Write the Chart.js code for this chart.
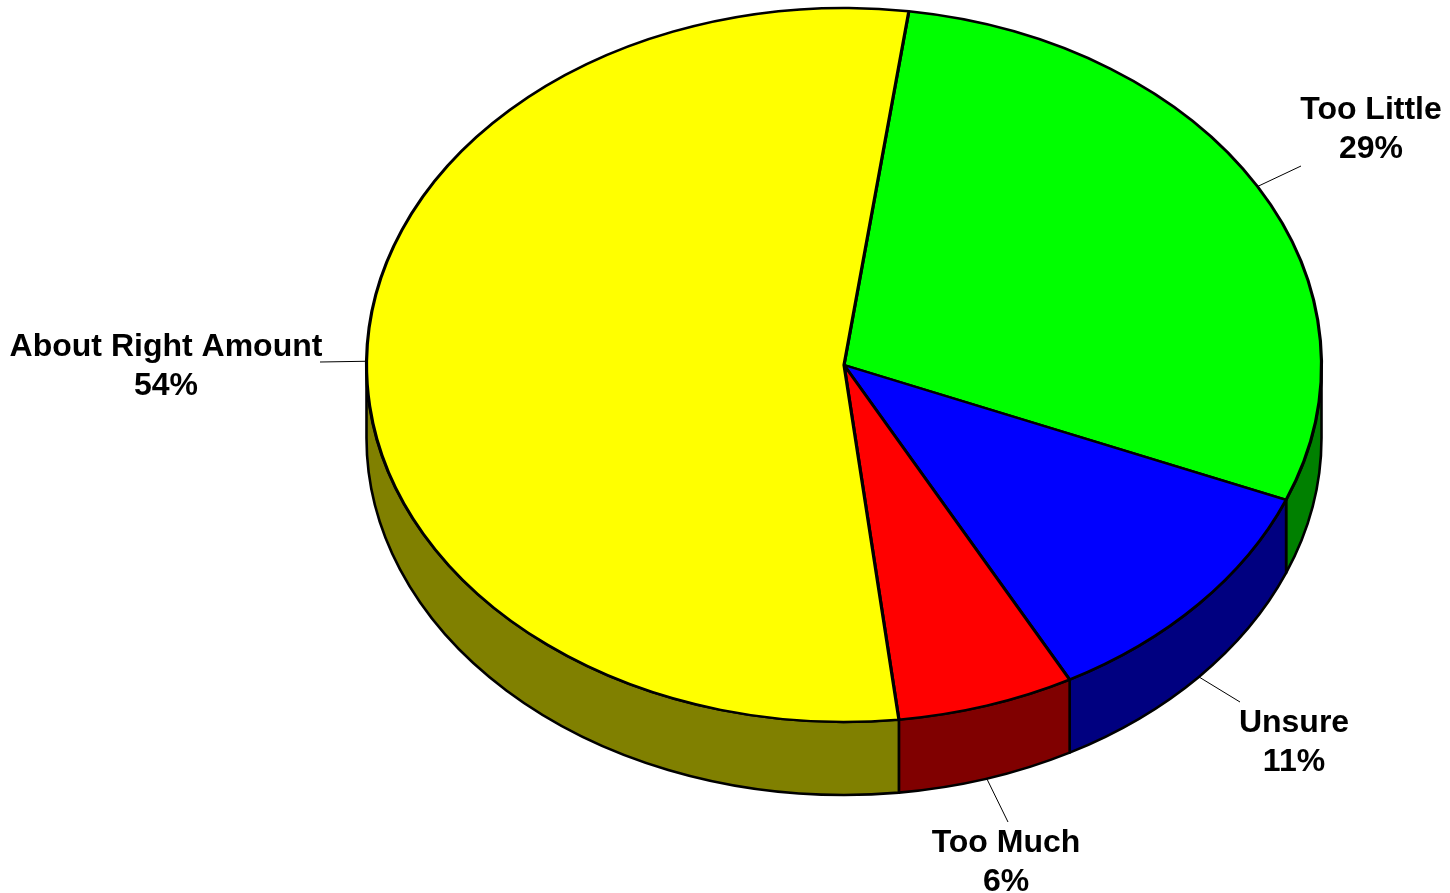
<!DOCTYPE html>
<html>
<head>
<meta charset="utf-8">
<script src="https://cdn.jsdelivr.net/npm/chart.js@4/dist/chart.umd.min.js"></script>
<style>
  html, body { margin: 0; padding: 0; background: #fff; }
  #wrap { width: 1450px; height: 893px; }
</style>
</head>
<body>
<div id="wrap"><canvas id="pie" width="1450" height="893"></canvas></div>
<script>
// 3D-look pie: Chart.js draws the top face, a plugin squashes it and adds the walls

const categories = ["Too Little", "Unsure", "Too Much", "About Right Amount"];
const values = [29, 11, 6, 54];
const pctLabels = ["29%", "11%", "6%", "54%"];
const topColors = ["#00ff00", "#0000ff", "#ff0000", "#ffff00"];
const sideColors = ["#008000", "#000080", "#800000", "#808000"];

// look of the projection
const tilt = 357 / 477.5;   // ellipse height / width
const depth = 73;           // wall height in px

// where each label sits (centre x, first baseline) and where its leader ends
const labelPos = [[1371, 119], [1294, 732], [1006, 852], [166, 356]];
const leaderEnd = [[1301, 166], [1240, 702], [1008, 822], [320, 362]];

const $ = id => document.getElementById(id);

function frontRanges(s, e) {
  // parts of [s,e] that face the viewer (canvas angle 0..PI, any turn)
  let out = [];
  for (let k = -1; k <= 1; k++) {
    let a = Math.max(s, 2 * Math.PI * k), b = Math.min(e, 2 * Math.PI * k + Math.PI);
    if (b > a) out.push([a, b]);
  }
  return out;
}

const pie3d = {
  id: "pie3d",
  beforeDatasetsDraw(chart) {
    const ctx = chart.ctx;
    const arcs = chart.getDatasetMeta(0).data;
    ctx.save();
    ctx.lineWidth = 2.6;
    ctx.strokeStyle = "#000";
    ctx.lineJoin = "round";
    arcs.forEach((arc, i) => {
      const {x, y, outerRadius, startAngle, endAngle} = arc;
      const rx = outerRadius, ry = outerRadius * tilt;
      frontRanges(startAngle, endAngle).forEach(([a, b]) => {
        ctx.beginPath();
        ctx.ellipse(x, y, rx, ry, 0, a, b);
        ctx.ellipse(x, y + depth, rx, ry, 0, b, a, true);
        ctx.closePath();
        ctx.fillStyle = sideColors[i];
        ctx.fill();
        ctx.stroke();
      });
    });
    ctx.restore();

    // squash the circle into the top ellipse
    const c = arcs[0];
    ctx.save();
    ctx.translate(0, c.y);
    ctx.scale(1, tilt);
    ctx.translate(0, -c.y);
  },
  afterDatasetsDraw(chart) {
    chart.ctx.restore();
  },
  afterDraw(chart) {
    const ctx = chart.ctx;
    const arcs = chart.getDatasetMeta(0).data;
    ctx.save();
    arcs.forEach((arc, i) => {
      const mid = (arc.startAngle + arc.endAngle) / 2;
      let px = arc.x + arc.outerRadius * Math.cos(mid);
      let py = arc.y + arc.outerRadius * tilt * Math.sin(mid);
      if (Math.sin(mid) > 0) py += depth;
      ctx.beginPath();
      ctx.moveTo(px, py);
      ctx.lineTo(leaderEnd[i][0], leaderEnd[i][1]);
      ctx.lineWidth = 1;
      ctx.strokeStyle = "#000";
      ctx.stroke();

      ctx.fillStyle = "#000";
      ctx.font = "bold 32px 'Liberation Sans', Arial, sans-serif";
      ctx.textAlign = "center";
      ctx.textBaseline = "alphabetic";
      ctx.fillText(categories[i], labelPos[i][0], labelPos[i][1]);
      ctx.fillText(pctLabels[i], labelPos[i][0], labelPos[i][1] + 39);
    });
    ctx.restore();
  }
};

new Chart($("pie"), {
  type: "pie",
  data: {
    labels: categories,
    datasets: [{
      data: values,
      backgroundColor: topColors,
      borderColor: "#000",
      borderWidth: 3.2,
      borderAlign: "center",
      clip: false
    }]
  },
  options: {
    responsive: false,
    animation: false,
    rotation: 7.8,
    radius: 477.5,
    layout: { padding: { left: 238, right: 0, top: 0, bottom: 163 } },
    events: [],
    plugins: {
      legend: { display: false },
      tooltip: { enabled: false }
    }
  },
  plugins: [pie3d]
});
</script>
</body>
</html>
